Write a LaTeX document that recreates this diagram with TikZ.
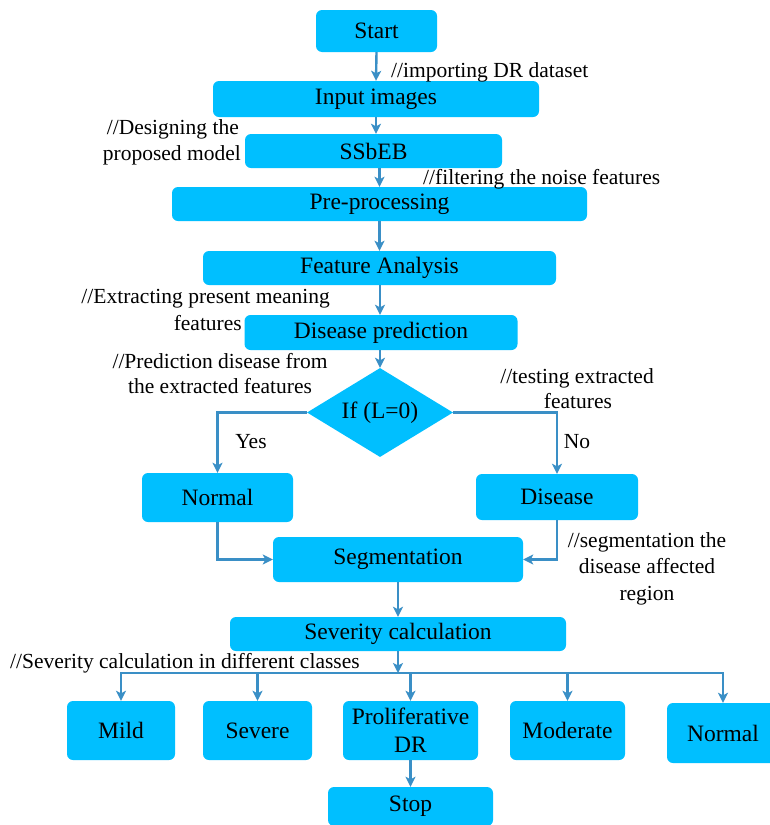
\documentclass[tikz,border=0pt]{standalone}
\usepackage{fontspec}
\IfFontExistsTF{LiberationSerif-Regular.ttf}
  {\setmainfont{LiberationSerif-Regular.ttf}[BoldFont=LiberationSerif-Bold.ttf]}
  {\setmainfont{Liberation Serif}}
\usetikzlibrary{shapes.geometric,arrows.meta}
\definecolor{boxblue}{RGB}{0,191,255}
\definecolor{arrblue}{RGB}{58,143,198}
\begin{document}
\begin{tikzpicture}[x=1pt,y=-1pt,
  box/.style={fill=boxblue, rounded corners=6pt, inner sep=0pt, align=center,
    font=\rmfamily\fontsize{23.5}{28}\selectfont},
  cmt/.style={font=\rmfamily\fontsize{21.5}{26}\selectfont, inner sep=0pt},
  ln/.style={draw=arrblue, line width=2.4pt},
  arr/.style={ln, -{Stealth[length=10pt,width=10pt,inset=2.5pt]}}
]
\useasboundingbox (0,0) rectangle (770,825);
\fill[white] (0,0) rectangle (770,825);

% main column
\node[box, minimum width=121pt, minimum height=42pt] (start) at (376.5,31) {Start};
\node[box, minimum width=326pt, minimum height=36pt] (input) at (376,99) {Input images};
\node[box, minimum width=257pt, minimum height=34pt] (ssbeb) at (373.5,151) {SSbEB};
\node[box, minimum width=415pt, minimum height=34pt] (pre) at (379.5,204) {Pre-processing};
\node[box, minimum width=353pt, minimum height=34pt] (feat) at (379.5,268) {Feature Analysis};
\node[box, minimum width=273pt, minimum height=35pt] (dpred) at (381,332.5) {Disease prediction};
\node[diamond, aspect=1.64, fill=boxblue, inner sep=0pt, minimum width=146pt, minimum height=89pt,
  font=\rmfamily\fontsize{23.5}{28}\selectfont] (dia) at (380,412.5) {If (L=0)};
\node[box, minimum width=151pt, minimum height=49pt] (normal) at (217.5,497.5) {Normal};
\node[box, minimum width=162pt, minimum height=46pt] (disease) at (557,497) {Disease};
\node[box, minimum width=250pt, minimum height=45pt] (seg) at (398,559.5) {Segmentation};
\node[box, minimum width=336pt, minimum height=34pt] (sev) at (398,634) {Severity calculation};

% bottom row
\node[box, minimum width=108pt, minimum height=59pt] (mild) at (121,730.5) {Mild};
\node[box, minimum width=109pt, minimum height=59pt] (severe) at (257.5,730.5) {Severe};
\node[box, minimum width=135pt, minimum height=59pt] (prolif) at (410.5,730.5) {Proliferative\\DR};
\node[box, minimum width=115pt, minimum height=59pt] (moderate) at (567.5,730.5) {Moderate};
\node[box, minimum width=112pt, minimum height=60pt] (norm2) at (723,733) {Normal};
\node[box, minimum width=165pt, minimum height=39pt] (stop) at (410.5,806.5) {Stop};

% connectors
\draw[arr] (start.south) -- (input.north);
\draw[arr] (input.south) -- (input.south |- ssbeb.north);
\draw[arr] (pre.north |- ssbeb.south) -- (pre.north);
\draw[arr] (feat.north |- pre.south) -- (feat.north);
\draw[arr] (feat.south -| dia.north) -- (dia.north |- dpred.north);
\draw[arr] (dia.north |- dpred.south) -- (dia.north);
\draw[arr] (dia.west) -| (normal.north);
\draw[arr] (dia.east) -| (disease.north);
\draw[arr] (normal.south) |- (seg.west);
\draw[arr] (disease.south) |- (seg.east);
\draw[arr] (seg.south) -- (sev.north);
\coordinate (bus) at (398,673);
\draw[arr] (sev.south) -- (bus);
\draw[arr] (bus) -| (mild.north);
\draw[arr] (bus) -| (norm2.north);
\draw[arr] (bus -| severe.north) -- (severe.north);
\draw[arr] (bus -| prolif.north) -- (prolif.north);
\draw[arr] (bus -| moderate.north) -- (moderate.north);
\draw[arr] (prolif.south) -- (stop.north);

% comments
\node[cmt, anchor=base west] (c1) at (391,77) {//importing DR dataset};
\node[cmt, anchor=base east] (c2a) at (239,134) {//Designing the};
\node[cmt, anchor=base east] (c2b) at (241,160) {proposed model};
\node[cmt, anchor=base west] (c3) at (423,184) {//filtering the noise features};
\node[cmt, anchor=base east] (c4a) at (330,303) {//Extracting present meaning};
\node[cmt, anchor=base east] (c4b) at (242,330) {features};
\node[cmt, anchor=base] (c5a) at (220,368) {//Prediction disease from};
\node[cmt, anchor=base] (c5b) at (220,393) {the extracted features};
\node[cmt, anchor=base] (c6a) at (577,383) {//testing extracted};
\node[cmt, anchor=base] (c6b) at (578,408) {features};
\node[cmt, anchor=base] (yes) at (251,448) {Yes};
\node[cmt, anchor=base] (no) at (577,448) {No};
\node[cmt, anchor=base] (c7a) at (647,547) {//segmentation the};
\node[cmt, anchor=base] (c7b) at (647,573) {disease affected};
\node[cmt, anchor=base] (c7c) at (647,600) {region};
\node[cmt, anchor=base west] (c8) at (10,668) {//Severity calculation in different classes};
\end{tikzpicture}
\end{document}
